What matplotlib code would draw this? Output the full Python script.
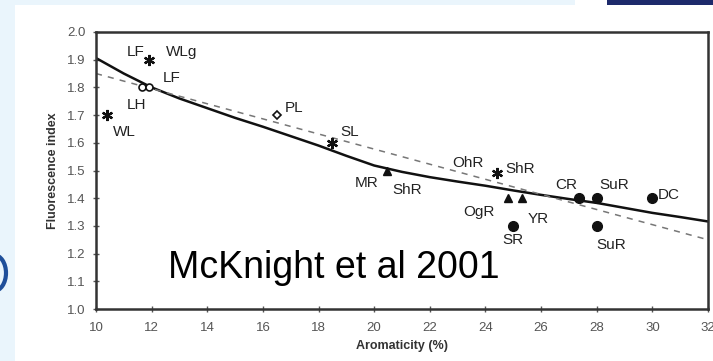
import numpy as np
import matplotlib.pyplot as plt
from matplotlib.patches import Rectangle, Ellipse

plt.rcParams['font.family'] = ['Liberation Sans', 'DejaVu Sans']

# samples: aromaticity (%) vs fluorescence index
samples = ['WL', 'LF/WLg', 'LH', 'LF', 'PL', 'SL', 'MR/ShR', 'OhR/ShR',
           'OgR', 'YR', 'SR', 'CR', 'SuR', 'SuR2', 'DC']
arom = [10.4, 11.9, 11.65, 11.9, 16.5, 18.5, 20.45, 24.4,
        24.8, 25.3, 25.0, 27.35, 28.0, 28.0, 30.0]
fi = [1.70, 1.90, 1.80, 1.80, 1.70, 1.60, 1.50, 1.49,
      1.40, 1.40, 1.30, 1.40, 1.40, 1.30, 1.40]
kind = ['ast', 'ast', 'open', 'open', 'diam', 'ast', 'tri', 'ast',
        'tri', 'tri', 'dot', 'dot', 'dot', 'dot', 'dot']

# fitted curve (solid)
fit_x = [10, 11, 12, 13, 14, 15, 16, 17, 18, 19, 20, 21, 22, 23, 24, 25, 26, 27, 28, 29, 30, 31, 32]
fit_y = [1.906, 1.85, 1.80, 1.76, 1.725, 1.69, 1.658, 1.624, 1.59, 1.553, 1.518, 1.495, 1.476,
         1.46, 1.445, 1.428, 1.412, 1.397, 1.383, 1.365, 1.347, 1.332, 1.316]
# linear fit (dashed)
lin_x = [10, 32]
lin_y = [1.85, 1.25]

# label text and where it sits
lab_text = ['LF', 'WLg', 'LF', 'LH', 'WL', 'PL', 'SL', 'MR', 'ShR', 'OhR', 'ShR',
            'OgR', 'YR', 'SR', 'CR', 'SuR', 'DC', 'SuR']
lab_x = [11.1, 12.5, 12.4, 11.1, 10.6, 16.8, 18.8, 19.3, 20.65, 22.8, 24.7,
         23.2, 25.5, 24.6, 26.5, 28.1, 30.2, 28.0]
lab_y = [1.928, 1.928, 1.834, 1.737, 1.64, 1.725, 1.64, 1.455, 1.43, 1.527, 1.505,
         1.35, 1.325, 1.25, 1.447, 1.447, 1.41, 1.23]

fig = plt.figure(figsize=(7.13, 3.61), dpi=100, facecolor='#eaf5fc')

# slide background bits
fig.patches.append(Rectangle((15 / 713, 0), 1, 1 - 5 / 361, transform=fig.transFigure,
                             facecolor='white', edgecolor='none', zorder=-2))
fig.patches.append(Rectangle((575 / 713, 1 - 5 / 361), 1, 5 / 361, transform=fig.transFigure,
                             facecolor='white', edgecolor='none', zorder=-2))
fig.patches.append(Rectangle((607 / 713, 1 - 5 / 361), 1, 5 / 361, transform=fig.transFigure,
                             facecolor='#1d2a6b', edgecolor='none', zorder=-1))
fig.patches.append(Ellipse((-6 / 713, 1 - 273 / 361), 24 / 713, 36 / 361, transform=fig.transFigure,
                           facecolor='none', edgecolor='#1f4f9a', linewidth=3, zorder=-1))

ax = fig.add_axes([96 / 713, 1 - 309 / 361, 612 / 713, 277 / 361])
ax.set_zorder(5)
ax.set_xlim(10, 32)
ax.set_ylim(1.0, 2.0)

ax.plot(fit_x, fit_y, color='#111111', lw=1.8, zorder=2)
ax.plot(lin_x, lin_y, color='#777777', lw=1.1, ls=(0, (4, 4)), zorder=2)

for x, y, k in zip(arom, fi, kind):
    if k == 'ast':
        ax.plot(x, y, marker=(6, 2, 0), ms=8, mew=1.6, color='#111111', zorder=3)
    elif k == 'open':
        ax.plot(x, y, marker='o', ms=5, mfc='white', mec='#111111', mew=1.2, zorder=3)
    elif k == 'diam':
        ax.plot(x, y, marker='D', ms=4, mfc='white', mec='#111111', mew=1.2, zorder=3)
    elif k == 'tri':
        ax.plot(x, y, marker='^', ms=6, color='#111111', zorder=3)
    else:
        ax.plot(x, y, marker='o', ms=7, color='#111111', zorder=3)

for t, x, y in zip(lab_text, lab_x, lab_y):
    ax.text(x, y, t, fontsize=11, color='#222222', ha='left', va='center')

ax.text(12.6, 1.112, 'McKnight et al 2001', fontsize=27, color='black', ha='left', va='baseline')

ax.set_xticks(range(10, 33, 2))
ax.set_yticks(np.arange(1.0, 2.01, 0.1))
ax.set_yticklabels(['%.1f' % v for v in np.arange(1.0, 2.01, 0.1)])
ax.tick_params(direction='inout', length=5, width=1, color='#555555',
               labelsize=9.5, labelcolor='#555555')
ax.tick_params(axis='x', pad=7)
ax.tick_params(axis='y', pad=5)
for s in ax.spines.values():
    s.set_color('#333333')
    s.set_linewidth(1.8)

ax.set_xlabel('Aromaticity (%)', fontsize=9, fontweight='bold', color='#333333', labelpad=4)
ax.set_ylabel('Fluorescence index', fontsize=9, fontweight='bold', color='#333333', labelpad=6)

fig.savefig('out.png', dpi=100, facecolor=fig.get_facecolor())
